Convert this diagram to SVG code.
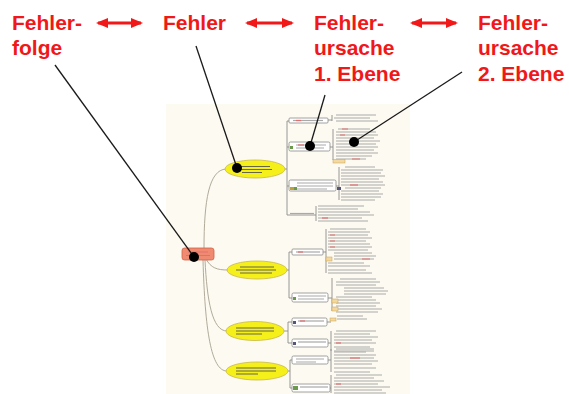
<svg xmlns="http://www.w3.org/2000/svg" width="569" height="394" viewBox="0 0 569 394">
<defs>
<marker id="ah" viewBox="0 0 12 10" refX="10" refY="5" markerWidth="12" markerHeight="10" markerUnits="userSpaceOnUse" orient="auto-start-reverse"><path d="M0,0 L12,5 L0,10 Z" fill="#f01818"/></marker>
<style>
.lbl{font-family:"Liberation Sans",Arial,sans-serif;font-weight:bold;font-size:21px;fill:#f01818}
.arr{stroke:#f01818;stroke-width:3.2;fill:none}
.ptr{stroke:#1a1a1a;stroke-width:1.3;fill:none}
.dot{fill:#000}
.ell{fill:#f5ef1a;stroke:#c8b84a;stroke-width:0.8}
.box{fill:#fff;stroke:#8a8a8a;stroke-width:0.8}
.con{stroke:#a8a290;stroke-width:0.9;fill:none}
.br{stroke:#8c8c8c;stroke-width:0.9;fill:none}
.row{stroke:#a9a9a9;stroke-width:1.2;fill:none}
.rr{stroke:#e07070;stroke-width:1.2;fill:none}
.dk{stroke:#555;stroke-width:0.9;fill:none}
.tag{fill:#f3d9a0;stroke:#c9a050;stroke-width:0.5}
.ic{fill:#6a9a4a}
</style>
</defs>
<rect width="569" height="394" fill="#ffffff"/>
<rect x="166" y="104" width="244" height="290" fill="#fcfaf1"/>

<g id="connectors">
<path class="con" d="M204,249 C204,200 209,170 226,169"/>
<path class="con" d="M206,259 C211,268 217,270 228,270"/>
<path class="con" d="M205,260 C207,300 212,331 227,331"/>
<path class="con" d="M203,260 C205,330 211,371 227,371"/>
<path class="br" d="M285,169 H287 M287,121 V215 M287,121 H289 M287,147 H289 M287,186 H289 M287,215 H316"/>
<path class="br" d="M287,270 H289 M289,252 V298 M289,252 H292 M289,298 H292"/>
<path class="br" d="M284,331 H288 M288,322 V343 M288,322 H292 M288,343 H292"/>
<path class="br" d="M288,371 H290 M290,360 V388 M290,360 H292 M290,388 H292"/>
<path class="br" d="M328,120 H332 M332,115 V121 M330,147 H333 M333,129 V160 M336,186 H339 M339,167 V200 M316,215 V206 M316,215 V221"/>
<path class="br" d="M323,252 H326 M326,229 V273 M328,298 H332 M332,278 V311 M327,322 H331 M331,318 V320 M328,343 H331 M331,331 V351 M328,360 H331 M331,349 V372 M330,388 H331 M331,375 V393"/>
</g>

<g id="mindmap-root">
<rect x="182" y="248" width="32" height="12" rx="2.5" fill="#f08a70" stroke="#d06048" stroke-width="0.8"/>
<path class="rr" d="M188,252 h20 M186,255.5 h24"/>
</g>

<g id="fehler-1"><ellipse class="ell" cx="255" cy="169" rx="30" ry="9"/><path class="dk" d="M238,166.5 h32 M238,169.5 h34 M242,172.5 h20"/></g>
<g id="fehler-2"><ellipse class="ell" cx="257" cy="270" rx="30" ry="9"/><path class="dk" d="M240,267 h34 M236,270 h40 M240,273 h32"/></g>
<g id="fehler-3"><ellipse class="ell" cx="255" cy="331" rx="29" ry="9.5"/><path class="dk" d="M236,328 h38 M236,331 h38 M236,334 h26"/></g>
<g id="fehler-4"><ellipse class="ell" cx="257" cy="371" rx="31" ry="9"/><path class="dk" d="M236,368 h40 M236,371 h40 M236,374 h22"/></g>

<g id="ursache-1a"><rect class="box" x="289" y="118" width="39" height="5" rx="1"/><path class="row" d="M293,120.5 h30"/><path class="rr" d="M296,120.5 h5"/></g>
<g id="ursache-1b"><rect class="box" x="289" y="142" width="41" height="9" rx="1.5"/><path class="row" d="M296,145 h30 M296,148 h28"/><path class="rr" d="M298,145 h6"/><rect class="ic" x="290" y="146" width="3" height="3"/></g>
<g id="ursache-1c"><rect class="box" x="289" y="180" width="47" height="11" rx="1.5"/><path class="row" d="M297,183 h36 M297,186 h36 M297,189 h30"/><rect x="290" y="187" width="4" height="3" fill="#c0a040"/><rect class="ic" x="294" y="187" width="3" height="3"/></g>
<g id="ursache-1d"><path class="row" d="M290,213.5 h24"/></g>

<g id="ursache-2a"><rect class="box" x="292" y="249" width="31" height="6" rx="1"/><path class="row" d="M296,252 h24"/><path class="rr" d="M298,252 h5"/></g>
<g id="ursache-2b"><rect class="box" x="292" y="293" width="36" height="9" rx="1.5"/><path class="row" d="M298,296 h28 M298,299 h26"/><rect class="ic" x="293" y="297" width="3" height="3"/></g>
<g id="ursache-3a"><rect class="box" x="292" y="318" width="35" height="8" rx="1.5"/><path class="row" d="M298,321 h26"/><path class="rr" d="M300,321 h5"/><rect fill="#557" x="293" y="321" width="3" height="3"/></g>
<g id="ursache-3b"><rect class="box" x="292" y="339" width="36" height="8" rx="1.5"/><path class="row" d="M298,342 h28"/><rect fill="#557" x="293" y="342" width="3" height="3"/></g>
<g id="ursache-4a"><rect class="box" x="292" y="356" width="36" height="8" rx="1.5"/><path class="row" d="M296,359 h28 M296,362 h20"/></g>
<g id="ursache-4b"><rect class="box" x="292" y="384" width="38" height="8" rx="1.5"/><path class="row" d="M300,387 h28"/><rect class="ic" x="293" y="386" width="5" height="4"/></g>

<g id="ursache-ebene2">
<path class="row" d="M336,115 h40 M334,118 h36 M336,121 h42"/>
<path class="row" d="M338,129 h32 M336,132 h40 M336,135 h42 M336,138 h38 M336,141 h44 M336,144 h40 M336,147 h42 M336,150 h38 M336,153 h42 M336,156 h36 M336,159 h30"/>
<path class="rr" d="M342,129 h6 M340,135 h5 M352,159 h8"/>
<rect class="tag" x="333" y="159.5" width="12" height="3.5"/>
<path class="row" d="M345,167 h30 M341,170 h42 M341,173 h40 M341,176 h44 M341,179 h38 M341,182 h42 M341,185 h44 M345,188 h36 M341,191 h38 M341,194 h42 M341,197 h40 M341,200 h34"/>
<path class="rr" d="M350,185 h8"/>
<rect fill="#557" x="337" y="187" width="4" height="3"/>
<path class="row" d="M318,206 h46 M318,209 h40 M318,212 h52 M318,215 h56 M318,218 h44 M318,221 h50"/>
<path class="rr" d="M322,218 h6"/>
<path class="row" d="M330,229 h36 M328,232 h42 M328,235 h40 M328,238 h44 M328,241 h38 M328,244 h42 M328,247 h44 M328,250 h40 M334,253 h38 M334,256 h42 M334,259 h40 M328,263 h36 M328,266 h42 M328,270 h38 M328,273 h44"/>
<path class="rr" d="M330,235 h5 M330,241 h5 M330,247 h5 M362,259 h8"/>
<rect class="tag" x="326" y="257" width="6" height="4"/>
<path class="row" d="M340,279 h36 M336,282 h44 M336,285 h40 M344,288 h40 M344,291 h44 M344,294 h42 M336,297 h36 M336,300 h40 M336,303 h44 M336,306 h40 M336,309 h46 M336,312 h42"/>
<rect class="tag" x="332" y="299" width="6" height="4"/>
<rect class="tag" x="332" y="307" width="6" height="4"/>
<path class="row" d="M337,316 h26 M337,319 h30"/>
<rect class="tag" x="330" y="318" width="6" height="3"/>
<path class="row" d="M336,331 h40 M334,334 h36 M334,337 h44 M334,340 h38 M334,343 h42 M334,347 h36 M334,351 h40"/>
<path class="rr" d="M336,343 h5"/>
<path class="row" d="M336,349 h38 M334,352 h32 M334,355 h42 M334,358 h40 M334,361 h44 M334,364 h38 M334,368 h42 M334,372 h36"/>
<path class="rr" d="M350,358 h10"/>
<path class="row" d="M336,375 h46 M334,378 h40 M334,381 h50 M334,384 h44 M334,387 h56 M334,390 h48 M334,393 h52"/>
<path class="rr" d="M336,384 h5"/>
</g>

<g id="legend">
<text class="lbl" x="12" y="30">Fehler-</text>
<text class="lbl" x="12" y="55">folge</text>
<text class="lbl" x="163" y="30">Fehler</text>
<text class="lbl" x="314" y="30">Fehler-</text>
<text class="lbl" x="314" y="55">ursache</text>
<text class="lbl" x="314" y="81">1. Ebene</text>
<text class="lbl" x="478" y="30">Fehler-</text>
<text class="lbl" x="478" y="55">ursache</text>
<text class="lbl" x="478" y="81">2. Ebene</text>
<path class="arr" d="M98,23 H141" marker-start="url(#ah)" marker-end="url(#ah)"/>
<path class="arr" d="M247,23 H292" marker-start="url(#ah)" marker-end="url(#ah)"/>
<path class="arr" d="M412,23 H456" marker-start="url(#ah)" marker-end="url(#ah)"/>
</g>

<g id="pointers">
<path class="ptr" d="M55,65 L194,257"/><circle class="dot" cx="194" cy="257" r="5"/>
<path class="ptr" d="M196,46 L237,168"/><circle class="dot" cx="237" cy="168" r="5"/>
<path class="ptr" d="M325,95 L310,146"/><circle class="dot" cx="310" cy="146" r="5"/>
<path class="ptr" d="M462,72 L354,142"/><circle class="dot" cx="354" cy="142" r="5"/>
</g>
</svg>
